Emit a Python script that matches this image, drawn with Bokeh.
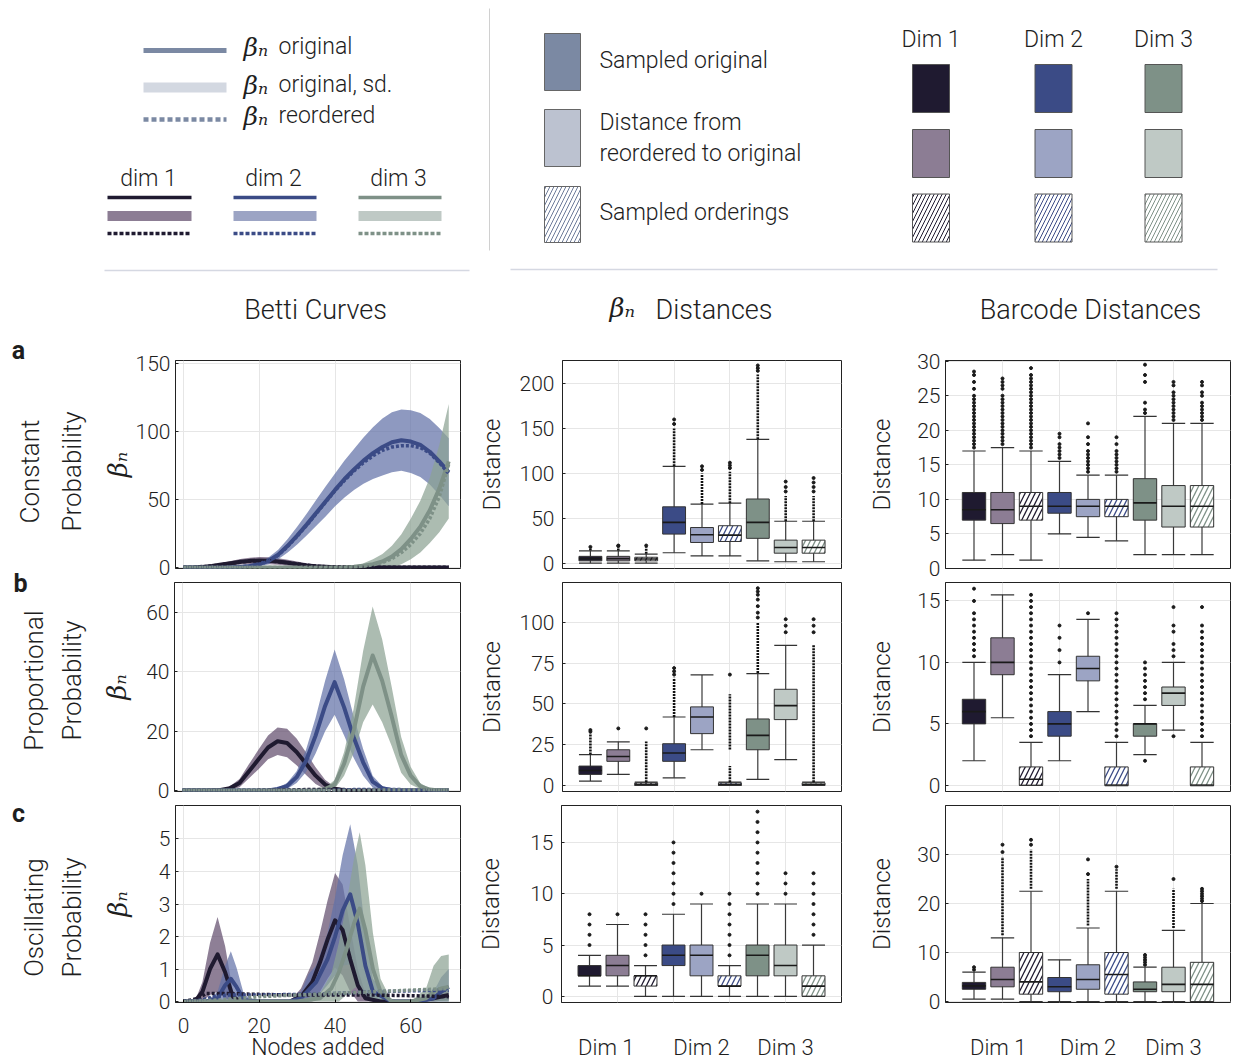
import numpy as np
from bokeh.plotting import figure
from bokeh.layouts import column, row
from bokeh.models import Range1d, FixedTicker, ColumnDataSource
from bokeh.core.properties import value
from bokeh.embed import file_html
from bokeh.resources import INLINE

# ======================= DATA =======================
# ---- Betti curves: nodes added (rows a and b) ----
X_AB = [0, 2.5, 5, 7.5, 10, 12.5, 15, 17.5, 20, 22.5, 25, 27.5, 30, 32.5, 35,
        37.5, 40, 42.5, 45, 47.5, 50, 52.5, 55, 57.5, 60, 62.5, 65, 67.5, 70]

# a) Constant probability
A_DIM1_MEAN = [0, 0.1, 0.5, 1.2, 2.2, 3.2, 4.2, 4.9, 5.2, 5.0, 4.4, 3.5, 2.5, 1.6, 0.9,
               0.5, 0.2, 0.1, 0, 0, 0, 0, 0, 0, 0, 0, 0, 0, 0]
A_DIM1_SD = [0, 0.1, 0.4, 0.8, 1.2, 1.6, 2.0, 2.3, 2.5, 2.5, 2.4, 2.2, 1.9, 1.5, 1.1,
             0.8, 0.5, 0.3, 0.1, 0, 0, 0, 0, 0, 0, 0, 0, 0, 0]
A_DIM1_REORD = [0, 0.1, 0.5, 1.1, 2.0, 3.0, 4.0, 4.7, 5.0, 4.9, 4.3, 3.5, 2.6, 1.7, 1.0,
                0.6, 0.4, 0.3, 0.2, 0.2, 0.2, 0.2, 0.2, 0.2, 0.2, 0.2, 0.2, 0.2, 0.2]
A_DIM2_MEAN = [0, 0, 0, 0, 0.1, 0.2, 0.5, 1.2, 2.5, 5, 9.5, 16, 23.5, 31.5, 40,
               48.5, 57, 65, 72, 78.5, 84, 88.5, 92, 93.5, 92.5, 90, 85, 78, 70]
A_DIM2_SD = [0, 0, 0, 0, 0.1, 0.2, 0.4, 0.8, 1.5, 2.5, 3.5, 5, 6.5, 8, 9.5,
             11, 12, 13.5, 15, 17, 19, 21, 22, 22.5, 23, 23.5, 24, 24.5, 25]
A_DIM2_REORD = [0, 0, 0, 0, 0.1, 0.2, 0.5, 1.1, 2.3, 4.7, 9, 15.5, 23, 31, 39.5,
                48, 56.5, 64, 71, 77, 82, 86, 88.5, 89.5, 89.5, 88, 84, 77, 69]
A_DIM3_MEAN = [0, 0, 0, 0, 0, 0, 0, 0, 0, 0, 0, 0, 0, 0, 0, 0, 0,
               0.2, 0.6, 1.3, 2.5, 4.5, 8, 13.5, 21, 30, 42, 58, 78]
A_DIM3_SD = [0, 0, 0, 0, 0, 0, 0, 0, 0, 0, 0, 0, 0, 0, 0, 0, 0,
             0.3, 0.8, 1.8, 3.5, 5.5, 8, 11, 15, 19, 24, 32, 42]
A_DIM3_REORD = [0, 0, 0, 0, 0, 0, 0, 0, 0, 0, 0, 0, 0, 0, 0, 0, 0,
                0, 0.4, 1, 2, 3.7, 6.5, 11, 17, 25, 36, 52, 76]

# b) Proportional probability
B_DIM1_MEAN = [0, 0, 0, 0.05, 0.2, 0.8, 2.5, 6.5, 10.5, 14.5, 16.6, 16, 13, 9, 5,
               2, 0.6, 0.1, 0, 0, 0, 0, 0, 0, 0, 0, 0, 0, 0]
B_DIM1_SD = [0, 0, 0, 0.05, 0.2, 0.6, 1.4, 2.4, 3.3, 4.0, 4.6, 4.8, 4.5, 3.8, 2.8,
             1.6, 0.7, 0.2, 0, 0, 0, 0, 0, 0, 0, 0, 0, 0, 0]
B_DIM1_REORD = [0, 0, 0, 0, 0, 0, 0, 0, 0.05, 0.1, 0.1, 0.2, 0.2, 0.3, 0.3,
                0.3, 0.3, 0.3, 0.2, 0.2, 0.1, 0.1, 0, 0, 0, 0, 0, 0, 0]
B_DIM2_MEAN = [0, 0, 0, 0, 0, 0, 0, 0, 0, 0, 0.5, 1.5, 4.5, 10, 18.5,
               28.5, 36.5, 28, 18, 9.5, 3, 0.8, 0.2, 0, 0, 0, 0, 0, 0]
B_DIM2_SD = [0, 0, 0, 0, 0, 0, 0, 0, 0, 0, 0.4, 1.0, 2.0, 3.8, 6,
             8.5, 11, 9.5, 7, 4.5, 2, 0.7, 0.2, 0, 0, 0, 0, 0, 0]
B_DIM2_REORD = [0, 0, 0, 0, 0, 0, 0, 0, 0, 0, 0, 0, 0, 0, 0,
                0, 0.1, 0.2, 0.3, 0.3, 0.3, 0.3, 0.3, 0.3, 0.2, 0.1, 0, 0, 0]
B_DIM3_MEAN = [0, 0, 0, 0, 0, 0, 0, 0, 0, 0, 0, 0, 0, 0, 0,
               0.5, 2, 9, 20, 35, 45.5, 37, 25, 12, 5, 1.5, 0.3, 0, 0]
B_DIM3_SD = [0, 0, 0, 0, 0, 0, 0, 0, 0, 0, 0, 0, 0, 0, 0,
             0.4, 1.5, 4, 7.5, 12, 16.5, 14, 10, 6, 3, 1, 0.3, 0, 0]
B_DIM3_REORD = [0, 0, 0, 0, 0, 0, 0, 0, 0, 0, 0, 0, 0, 0, 0,
                0, 0, 0, 0, 0, 0.1, 0.2, 0.2, 0.2, 0.2, 0.2, 0.2, 0.2, 0.2]

# c) Oscillating probability (own node positions per dimension)
C_DIM1_X = [0, 3, 5, 7, 9, 11, 13, 15, 20, 28, 31, 34, 36, 38, 40, 42, 44, 46, 48, 52, 60, 66, 70]
C_DIM1_MEAN = [0, 0, 0.3, 1.0, 1.45, 0.9, 0.15, 0, 0, 0, 0.15, 0.6, 1.2, 1.9, 2.5, 2.2, 1.3, 0.5, 0.1, 0, 0, 0.1, 0.2]
C_DIM1_SD = [0, 0, 0.3, 0.8, 1.15, 0.8, 0.2, 0, 0, 0, 0.25, 0.6, 0.9, 1.2, 1.45, 1.4, 1.0, 0.5, 0.15, 0, 0, 0.1, 0.15]
C_DIM2_X = [0, 6, 9, 11, 12.5, 14, 16, 20, 28, 31, 33, 35, 38, 40, 42, 44, 46, 48, 50, 55, 62, 66, 68, 70]
C_DIM2_MEAN = [0, 0, 0.1, 0.5, 0.7, 0.45, 0.05, 0, 0, 0.1, 0.35, 0.6, 1.3, 2.0, 2.8, 3.3, 2.4, 1.1, 0.3, 0, 0, 0.1, 0.3, 0.45]
C_DIM2_SD = [0, 0, 0.2, 0.6, 0.85, 0.6, 0.15, 0, 0, 0.2, 0.5, 0.5, 0.8, 1.2, 1.7, 2.15, 1.8, 1.0, 0.4, 0, 0, 0.2, 0.45, 0.55]
C_DIM3_X = [0, 30, 36, 39, 41, 43, 45, 46.5, 48, 50, 52, 55, 60, 64, 66, 68, 70]
C_DIM3_MEAN = [0, 0, 0.1, 0.4, 0.9, 1.6, 2.4, 2.86, 2.2, 1.0, 0.3, 0, 0, 0.1, 0.3, 0.4, 0.45]
C_DIM3_SD = [0, 0, 0.15, 0.45, 0.9, 1.4, 2.0, 2.35, 2.0, 1.1, 0.4, 0, 0, 0.3, 0.8, 1.0, 1.0]
C_DIM1_REORD_X = [0, 4, 6, 10, 20, 30, 40, 50, 60, 70]
C_DIM1_REORD = [0, 0.1, 0.25, 0.25, 0.22, 0.2, 0.2, 0.2, 0.18, 0.15]
C_DIM2_REORD_X = [0, 5, 8, 12, 20, 30, 40, 50, 60, 70]
C_DIM2_REORD = [0, 0.05, 0.15, 0.2, 0.2, 0.22, 0.25, 0.3, 0.33, 0.35]
C_DIM3_REORD_X = [0, 10, 15, 20, 30, 40, 50, 60, 70]
C_DIM3_REORD = [0, 0.05, 0.1, 0.15, 0.2, 0.25, 0.3, 0.35, 0.4]

# ---- Box plots: 9 boxes = (orig, reordered, orderings) x (Dim 1, Dim 2, Dim 3) ----
BOX_POS = [1, 2, 3, 4, 5, 6, 7, 8, 9]
DIM_LABELS = ["Dim 1", "Dim 2", "Dim 3"]

# beta_n distances, constant
BD_A_Q1 = [3, 3, 3, 32.7, 23.4, 24.5, 28, 11.5, 11.5]
BD_A_MED = [5.5, 5.5, 5, 45.7, 32, 31.6, 45.7, 17.8, 17.8]
BD_A_Q3 = [8, 8, 7, 63, 40, 42, 71.7, 26, 26]
BD_A_LO = [0.5, 0.5, 0.5, 12, 8.5, 8.5, 3, 2, 2]
BD_A_HI = [14, 14, 10.5, 108, 66, 67, 138, 47, 47]
BD_A_DENSE = [[(14.5, 17)], [(14.5, 18)], [(11, 19)], [(108, 150)], [(66, 100)],
              [(67, 102)], [(138, 210)], [(47, 75)], [(47, 75)]]
BD_A_OUT = [[18.5], [19.5, 20], [20], [155, 160], [104, 108], [106, 109, 112],
            [214, 217, 220], [80, 85, 91], [80, 85, 90, 95]]

# barcode distances, constant
BC_A_Q1 = [7, 6.5, 7, 8, 7.5, 7.5, 7, 6, 6]
BC_A_MED = [8.5, 8.5, 9, 9, 9, 9, 9.5, 9, 9]
BC_A_Q3 = [11, 11, 11, 11, 10, 10, 13, 12, 12]
BC_A_LO = [1.2, 2, 1.2, 5, 4.5, 4, 2, 2, 2]
BC_A_HI = [17, 17.5, 17, 15.5, 13.5, 13.5, 22, 21, 21]
BC_A_DENSE = [[], [], [], [], [], [], [], [], []]
BC_A_OUT = [
    [17.5, 18, 18.5, 19, 19.5, 20, 20.5, 21, 21.5, 22, 22.5, 23, 23.5, 24, 24.5, 25, 26, 27, 28, 28.5],
    [18, 18.5, 19, 19.5, 20, 20.5, 21, 21.5, 22, 22.5, 23, 23.5, 24, 24.5, 25, 26, 26.5, 27, 27.5],
    [17.5, 18, 18.5, 19, 19.5, 20, 20.5, 21, 21.5, 22, 22.5, 23, 23.5, 24, 24.5, 25, 25.5, 26, 26.5, 27, 27.5, 28, 29],
    [16, 16.5, 17, 17.5, 18, 19, 19.5],
    [14, 14.5, 15, 15.5, 16, 16.5, 17, 18, 19, 21],
    [14, 14.5, 15, 15.5, 16, 16.5, 17, 18, 19],
    [22.5, 23, 24, 27, 28, 29.5],
    [21.5, 22, 22.5, 23, 23.5, 24, 24.5, 25, 25.5, 26.5, 27],
    [21.5, 22, 22.5, 23, 23.5, 24, 25, 25.5, 26.5, 27],
]

# beta_n distances, proportional
BD_B_Q1 = [6.8, 14.8, 0, 14.8, 31.8, 0, 21.9, 40.4, 0]
BD_B_MED = [9.2, 17.8, 0.5, 19.9, 42, 0.5, 30.7, 49, 0.5]
BD_B_Q3 = [11.9, 21.9, 1.6, 25.6, 48.2, 1.6, 40.8, 59, 1.6]
BD_B_LO = [2.7, 6.8, 0, 4.7, 21.9, 0, 3.7, 15.8, 0]
BD_B_HI = [18.9, 26.8, 2, 42, 67.8, 2, 68.6, 85.9, 2]
BD_B_DENSE = [[(19, 32)], [], [(2, 27)], [(42, 66)], [], [(2, 12), (22, 56)],
              [(69, 100)], [], [(2, 86)]]
BD_B_OUT = [[33, 34], [35], [35], [68, 70, 72], [], [68],
            [103, 106, 110, 114, 117, 119, 121], [94, 98, 102], [94, 98, 102]]

# barcode distances, proportional
BC_B_Q1 = [5, 9, 0, 4, 8.5, 0, 4, 6.5, 0]
BC_B_MED = [6, 10, 0.5, 5, 9.5, 0, 5, 7.5, 0]
BC_B_Q3 = [7, 12, 1.5, 6, 10.5, 1.5, 5, 8, 1.5]
BC_B_LO = [2, 5.5, 0, 2, 6, 0, 2.5, 4.5, 0]
BC_B_HI = [10, 15.5, 3.5, 9, 13.5, 3.5, 6.5, 10, 3.5]
BC_B_DENSE = [[], [], [], [], [], [], [], [], []]
BC_B_OUT = [
    [10.5, 11, 11.5, 12, 12.5, 13, 13.5, 14, 15, 16],
    [],
    [4, 4.5, 5, 5.5, 6, 6.5, 7, 7.5, 8, 8.5, 9, 9.5, 10, 10.5, 11, 11.5, 12, 12.5, 13, 13.5, 14, 14.5, 15, 15.5],
    [10, 11, 12, 13],
    [14],
    [4, 4.5, 5, 5.5, 6, 6.5, 7, 7.5, 8, 8.5, 9, 9.5, 10, 10.5, 11, 11.5, 12, 12.5, 13, 13.5, 14],
    [2, 7, 7.5, 8, 8.5, 9, 9.5, 10],
    [4, 10.5, 11, 11.5, 12.5, 13, 14.5],
    [4, 4.5, 5, 5.5, 6, 6.5, 7, 7.5, 8, 8.5, 9, 9.5, 10, 10.5, 11, 11.5, 12, 12.5, 13, 14.5],
]

# beta_n distances, oscillating
BD_C_Q1 = [2, 2, 1, 3, 2, 1, 2, 2, 0]
BD_C_MED = [2, 3, 2, 4, 4, 1, 4, 3, 1]
BD_C_Q3 = [3, 4, 2, 5, 5, 2, 5, 5, 2]
BD_C_LO = [1, 1, 0, 0, 0, 0, 0, 0, 0]
BD_C_HI = [4, 7, 3, 8, 9, 3, 9, 9, 5]
BD_C_DENSE = [[], [], [], [], [], [], [], [], []]
BD_C_OUT = [[5, 6, 7, 8], [8], [4, 5, 6, 7, 8], [9, 10, 11, 12, 13, 14, 15], [10],
            [4, 5, 6, 7, 8, 9, 10], [10, 11, 12, 13, 14, 15, 16, 17, 18], [10, 11, 12],
            [6, 7, 8, 9, 10, 11, 12]]

# barcode distances, oscillating
BC_C_Q1 = [2.5, 3, 1.5, 2, 2.5, 1.5, 2, 2, 0]
BC_C_MED = [3.2, 4.5, 4, 3, 4.5, 5.5, 2.5, 3.5, 3.5]
BC_C_Q3 = [3.9, 7, 10, 4.9, 7.5, 10, 4, 7, 8]
BC_C_LO = [0.5, 0.5, 0, 0, 0, 0, 0, 0, 0]
BC_C_HI = [6, 13, 22.5, 8.5, 15, 22.5, 7, 14.5, 20]
BC_C_DENSE = [[], [(13.5, 29.5)], [(23, 31)], [], [(15.5, 25)], [(23, 27)], [], [(15, 23)], []]
BC_C_OUT = [[6.5, 7], [30.5, 32], [32, 33], [], [26, 29], [27.5], [7.5, 8, 8.5, 9, 9.5],
            [25], [20.5, 21, 21.5, 22, 22.5, 23]]

# ======================= STYLE =======================
FONT = "Roboto Light"
FONT_B = "Roboto"
MATH = "DejaVu Serif"
TXT = "#1e1e1e"
GRID = "#e6e6e6"
DARK = ["#1f1a30", "#3b4b86", "#7e9187"]
LIGHT = ["#8c7d94", "#9ca4c4", "#bfc9c5"]
BAND = ["#634e6e", "#6372a8", "#8ca293"]
SLATE = "#7b89a3"

BOX_FILL = [DARK[0], LIGHT[0], "white", DARK[1], LIGHT[1], "white", DARK[2], LIGHT[2], "white"]
BOX_HATCH = [" ", " ", "/", " ", " ", "/", " ", " ", "/"]
BOX_HCOL = [DARK[0], DARK[0], DARK[0], DARK[1], DARK[1], DARK[1], DARK[2], DARK[2], DARK[2]]

TOP_H = 326
ROW_H = [254, 223, 260]
ROW_TOP = [34, 2, 2]
ROW_BOT = [12, 12, 55]
W_STRIP, W_BETTI, W_BD, W_BC = 99, 375, 381, 384


def common(p, tick_so):
    p.outline_line_color = "#222222"
    p.outline_line_width = 1
    p.outline_line_alpha = 1
    p.xgrid.grid_line_color = GRID
    p.ygrid.grid_line_color = GRID
    ax = p.yaxis[0]
    ax.major_tick_in = 3
    ax.major_tick_out = 0
    ax.minor_tick_line_color = None
    ax.axis_line_color = "#222222"
    ax.major_tick_line_color = "#222222"
    ax.major_label_text_font = FONT
    ax.major_label_text_font_size = "21px"
    ax.major_label_text_color = TXT
    ax.major_label_standoff = tick_so
    ax.axis_label_text_font = FONT
    ax.axis_label_text_font_size = "24px"
    ax.axis_label_text_color = TXT
    ax.axis_label_text_font_style = "normal"


def betti_panel(series, yr, yticks, r, lab_so):
    p = figure(width=W_BETTI, height=ROW_H[r], x_range=Range1d(-2.1, 73.1), y_range=Range1d(*yr),
               output_backend="svg", toolbar_location=None, title=None,
               min_border_left=73, min_border_right=14,
               min_border_top=ROW_TOP[r], min_border_bottom=ROW_BOT[r])
    common(p, 5)
    p.yaxis.ticker = FixedTicker(ticks=yticks)
    p.xgrid.ticker = FixedTicker(ticks=[0, 20, 40, 60])
    p.yaxis.axis_label = "βₙ"
    p.yaxis.axis_label_text_font = MATH
    p.yaxis.axis_label_text_font_style = "italic"
    p.yaxis.axis_label_text_font_size = "26px"
    p.yaxis.axis_label_standoff = lab_so
    for d, s in enumerate(series):
        m = np.array(s["mean"], dtype=float)
        sd = np.array(s["sd"], dtype=float)
        p.varea(x=s["x"], y1=np.maximum(m - sd, 0), y2=m + sd,
                fill_color=BAND[d], fill_alpha=0.72)
    for d, s in enumerate(series):
        p.line(s["x"], s["mean"], line_color=DARK[d], line_width=4, line_join="round")
    for d, s in enumerate(series):
        p.line(s["rx"], s["r"], line_color=DARK[d], line_width=3.5, line_dash="3 2")
    if r == 2:
        ax = p.xaxis[0]
        ax.ticker = FixedTicker(ticks=[0, 20, 40, 60])
        ax.major_tick_in = 3
        ax.major_tick_out = 0
        ax.minor_tick_line_color = None
        ax.axis_line_color = "#222222"
        ax.major_label_text_font = FONT
        ax.major_label_text_font_size = "21px"
        ax.major_label_text_color = TXT
        ax.major_label_standoff = 15
        ax.axis_label = "Nodes added"
        ax.axis_label_text_font = FONT
        ax.axis_label_text_font_size = "23px"
        ax.axis_label_text_font_style = "normal"
        ax.axis_label_text_color = TXT
        ax.axis_label_standoff = -2
    else:
        p.xaxis.visible = False
    return p


def box_panel(st, yr, yticks, r, width, left, right, tick_so, lab_so, dim_pos):
    q1, med, q3, lo, hi, dense, out = st
    p = figure(width=width, height=ROW_H[r], x_range=Range1d(0, 10), y_range=Range1d(*yr),
               output_backend="svg", toolbar_location=None, title=None,
               min_border_left=left, min_border_right=right,
               min_border_top=ROW_TOP[r], min_border_bottom=ROW_BOT[r])
    common(p, tick_so)
    p.yaxis.ticker = FixedTicker(ticks=yticks)
    p.yaxis.axis_label = "Distance"
    p.yaxis.axis_label_standoff = lab_so
    p.xgrid.ticker = FixedTicker(ticks=[2, 4, 6, 8])
    pos = np.array(BOX_POS, dtype=float)
    src = ColumnDataSource(dict(x=pos, l=pos - 0.41, r=pos + 0.41, q1=q1, q3=q3, med=med,
                                lo=lo, hi=hi, fill=BOX_FILL, hatch=BOX_HATCH, hcol=BOX_HCOL))
    p.segment(x0="x", y0="lo", x1="x", y1="hi", source=src, line_color="#3a3a3a", line_width=1.2)
    p.vbar(x="x", width=0.82, top="q3", bottom="q1", source=src, fill_color="fill",
           line_color="#333333", line_width=1, hatch_pattern="hatch", hatch_color="hcol",
           hatch_scale=10, hatch_weight=1.3)
    p.segment(x0="l", y0="med", x1="r", y1="med", source=src, line_color="#1a1a1a", line_width=1.6)
    p.segment(x0="l", y0="hi", x1="r", y1="hi", source=src, line_color="#333333", line_width=1.2)
    p.segment(x0="l", y0="lo", x1="r", y1="lo", source=src, line_color="#333333", line_width=1.2)
    dx, d0, d1 = [], [], []
    for i, ranges in enumerate(dense):
        for a, b in ranges:
            dx.append(BOX_POS[i]); d0.append(a); d1.append(b)
    if dx:
        p.segment(x0=dx, y0=d0, x1=dx, y1=d1, line_color="#111111", line_width=2.6, line_dash="2 1")
    ox, oy = [], []
    for i, vals in enumerate(out):
        for v in vals:
            ox.append(BOX_POS[i]); oy.append(v)
    p.scatter(ox, oy, size=3, color="#1a1a1a", marker="circle")
    if r == 2:
        ax = p.xaxis[0]
        ax.ticker = FixedTicker(ticks=dim_pos)
        ax.major_label_overrides = {dp: lab for dp, lab in zip(dim_pos, DIM_LABELS)}
        ax.major_tick_line_color = None
        ax.minor_tick_line_color = None
        ax.axis_line_color = None
        ax.major_label_text_font = FONT
        ax.major_label_text_font_size = "22px"
        ax.major_label_text_color = TXT
        ax.major_label_standoff = 26
    else:
        p.xaxis.visible = False
    return p


# ---- Betti series ----
def ser(x, mean, sd, rx, r):
    return dict(x=x, mean=mean, sd=sd, rx=rx, r=r)


BETTI = [
    [ser(X_AB, A_DIM1_MEAN, A_DIM1_SD, X_AB, A_DIM1_REORD),
     ser(X_AB, A_DIM2_MEAN, A_DIM2_SD, X_AB, A_DIM2_REORD),
     ser(X_AB, A_DIM3_MEAN, A_DIM3_SD, X_AB, A_DIM3_REORD)],
    [ser(X_AB, B_DIM1_MEAN, B_DIM1_SD, X_AB, B_DIM1_REORD),
     ser(X_AB, B_DIM2_MEAN, B_DIM2_SD, X_AB, B_DIM2_REORD),
     ser(X_AB, B_DIM3_MEAN, B_DIM3_SD, X_AB, B_DIM3_REORD)],
    [ser(C_DIM1_X, C_DIM1_MEAN, C_DIM1_SD, C_DIM1_REORD_X, C_DIM1_REORD),
     ser(C_DIM2_X, C_DIM2_MEAN, C_DIM2_SD, C_DIM2_REORD_X, C_DIM2_REORD),
     ser(C_DIM3_X, C_DIM3_MEAN, C_DIM3_SD, C_DIM3_REORD_X, C_DIM3_REORD)],
]
BETTI_Y = [(-0.7, 152), (-0.34, 70.1), (-0.03, 6.03)]
BETTI_T = [[0, 50, 100, 150], [0, 20, 40, 60], [0, 1, 2, 3, 4, 5]]
BETTI_SO = [0, 11, 23]

BD = [(BD_A_Q1, BD_A_MED, BD_A_Q3, BD_A_LO, BD_A_HI, BD_A_DENSE, BD_A_OUT),
      (BD_B_Q1, BD_B_MED, BD_B_Q3, BD_B_LO, BD_B_HI, BD_B_DENSE, BD_B_OUT),
      (BD_C_Q1, BD_C_MED, BD_C_Q3, BD_C_LO, BD_C_HI, BD_C_DENSE, BD_C_OUT)]
BD_Y = [(-5.5, 225.5), (-3.7, 124.5), (-0.6, 18.6)]
BD_T = [[0, 50, 100, 150, 200], [0, 25, 50, 75, 100], [0, 5, 10, 15]]
BD_SO = [11, 11, 22]

BC = [(BC_A_Q1, BC_A_MED, BC_A_Q3, BC_A_LO, BC_A_HI, BC_A_DENSE, BC_A_OUT),
      (BC_B_Q1, BC_B_MED, BC_B_Q3, BC_B_LO, BC_B_HI, BC_B_DENSE, BC_B_OUT),
      (BC_C_Q1, BC_C_MED, BC_C_Q3, BC_C_LO, BC_C_HI, BC_C_DENSE, BC_C_OUT)]
BC_Y = [(0, 30.1), (-0.5, 16.5), (-0.2, 40)]
BC_T = [[0, 5, 10, 15, 20, 25, 30], [0, 5, 10, 15], [0, 10, 20, 30]]

grid_rows = []
for r in range(3):
    f1 = betti_panel(BETTI[r], BETTI_Y[r], BETTI_T[r], r, BETTI_SO[r])
    f2 = box_panel(BD[r], BD_Y[r], BD_T[r], r, W_BD, 82, 14, 8, BD_SO[r], [1.6, 5, 8])
    f3 = box_panel(BC[r], BC_Y[r], BC_T[r], r, W_BC, 90, 9, 5, 18, [1.85, 5, 8])
    grid_rows.append(row(f1, f2, f3))

# ---- top legend / headers ----
TW = W_STRIP + W_BETTI + W_BD + W_BC
top = figure(width=TW, height=TOP_H, x_range=Range1d(0, TW), y_range=Range1d(TOP_H, 0),
             x_axis_type=None, y_axis_type=None, output_backend="svg",
             toolbar_location=None, min_border=0, outline_line_color=None, title=None)


def ttext(x, y, t, size="23px", font=FONT, style="normal", align="left", color=TXT):
    top.text(x=[x], y=[y], text=[t], text_font=value(font), text_font_style=style,
             text_font_size=size, text_align=align, text_baseline="middle", text_color=color)


# line legend
top.segment(x0=[143], y0=[50], x1=[226], y1=[50], line_color=SLATE, line_width=5)
top.segment(x0=[143], y0=[87], x1=[226], y1=[87], line_color="#d3d8e1", line_width=10)
top.segment(x0=[143], y0=[119], x1=[226], y1=[119], line_color=SLATE, line_width=4.5, line_dash="5 3")
for yy, lab in [(46, "original"), (84, "original, sd."), (115, "reordered")]:
    ttext(243, yy + 1, "βₙ", size="25px", font=MATH, style="italic")
    ttext(278, yy, lab)
for d, (xc, x0, x1) in enumerate([(148, 107, 191), (273, 233, 316), (398, 358, 441)]):
    ttext(xc, 178, "dim %d" % (d + 1), align="center")
    top.segment(x0=[x0], y0=[197], x1=[x1], y1=[197], line_color=DARK[d], line_width=3.5)
    top.segment(x0=[x0], y0=[215.5], x1=[x1], y1=[215.5], line_color=LIGHT[d], line_width=10)
    top.segment(x0=[x0], y0=[233], x1=[x1], y1=[233], line_color=DARK[d], line_width=3.5, line_dash="4 2")

# separators
top.segment(x0=[489], y0=[8], x1=[489], y1=[250], line_color="#d0d0d0", line_width=1)
top.segment(x0=[104, 510], y0=[270, 269], x1=[469, 1217], y1=[270, 269], line_color="#d5d8e2", line_width=1.5)

# box legend
top.rect(x=[562, 562], y=[61.5, 137.5], width=[36, 36], height=[57, 57],
         fill_color=[SLATE, "#bcc2d0"], line_color="#666666", line_width=1)
top.rect(x=[562], y=[214], width=[36], height=[56], fill_color="white", line_color="#666666",
         line_width=1, hatch_pattern="/", hatch_color="#6c7a99", hatch_scale=8, hatch_weight=1)
ttext(599, 60, "Sampled original")
ttext(599, 122, "Distance from")
ttext(599, 153, "reordered to original")
ttext(599, 212, "Sampled orderings")
for d, xc in enumerate([930.5, 1053, 1163]):
    ttext(xc, 39, "Dim %d" % (d + 1), align="center")
    top.rect(x=[xc, xc], y=[88, 153], width=[37, 37], height=[48, 48],
             fill_color=[DARK[d], LIGHT[d]], line_color="#555555", line_width=1)
    top.rect(x=[xc], y=[217.5], width=[37], height=[48], fill_color="white", line_color="#555555",
             line_width=1, hatch_pattern="/", hatch_color=DARK[d], hatch_scale=8, hatch_weight=1)

# column headers
ttext(315, 309, "Betti Curves", size="27px", align="center")
ttext(609, 307, "βₙ", size="26px", font=MATH, style="italic")
ttext(655, 309, "Distances", size="27px")
ttext(1090, 309, "Barcode Distances", size="27px", align="center")

# ---- row label strip ----
SH = sum(ROW_H)
strip = figure(width=W_STRIP, height=SH, x_range=Range1d(0, W_STRIP), y_range=Range1d(SH, 0),
               x_axis_type=None, y_axis_type=None, output_backend="svg",
               toolbar_location=None, min_border=0, outline_line_color=None, title=None)
strip.text(x=[18, 20, 18], y=[24, 257, 487], text=["a", "b", "c"], text_font=value(FONT_B),
           text_font_style="bold", text_font_size="25px", text_align="center",
           text_baseline="middle", text_color=TXT)
strip.text(x=[29, 71, 33, 71, 33, 71], y=[145, 145, 354, 354, 591, 591],
           text=["Constant", "Probability", "Proportional", "Probability", "Oscillating", "Probability"],
           angle=np.pi / 2, text_font=value(FONT), text_font_size="26px", text_align="center",
           text_baseline="middle", text_color=TXT)

layout = column(top, row(strip, column(*grid_rows)))
open("out.html", "w").write(file_html(layout, INLINE))
